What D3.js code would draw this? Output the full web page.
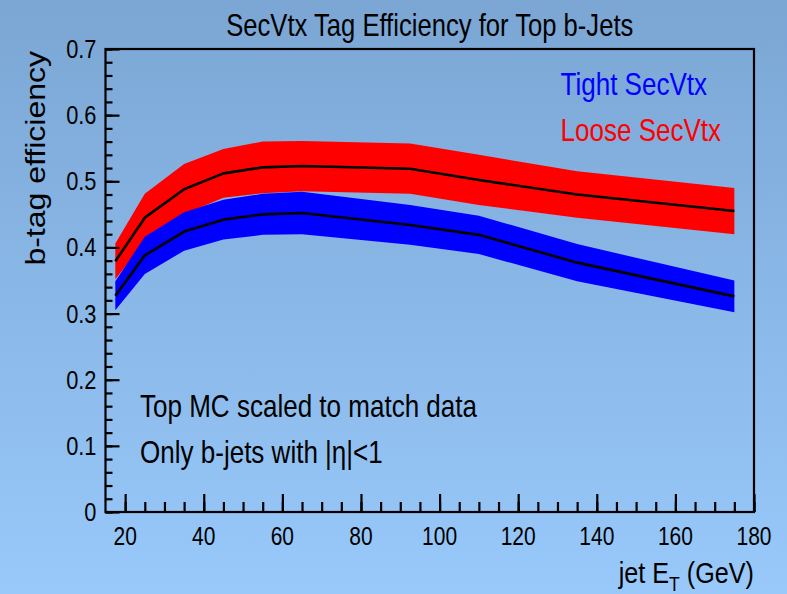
<!DOCTYPE html>
<html>
<head>
<meta charset="utf-8">
<script src="https://cdn.jsdelivr.net/npm/d3@7"></script>
<style>
  html, body { margin: 0; padding: 0; background: #8ab8e8; }
  svg { display: block; }
  text { font-family: "Liberation Sans", Arial, Helvetica, sans-serif; }
</style>
</head>
<body>
<svg id="chart" width="787" height="594"></svg>
<script>
// Jet ET bin centres (GeV)
const etBins = [17.5, 25, 35, 45, 55, 65, 92.5, 110, 135, 175];

// Tight SecVtx efficiency and its band half-width
const tightEff = [0.327, 0.388, 0.424, 0.442, 0.450, 0.452, 0.434, 0.419, 0.377, 0.326];
const tightErr = [0.022, 0.028, 0.029, 0.030, 0.031, 0.032, 0.030, 0.029, 0.028, 0.024];

// Loose SecVtx efficiency and its band half-width
const looseEff = [0.379, 0.445, 0.488, 0.512, 0.521, 0.523, 0.519, 0.502, 0.480, 0.455];
const looseErr = [0.027, 0.036, 0.038, 0.037, 0.039, 0.038, 0.038, 0.038, 0.035, 0.035];

const xTicks = [20, 40, 60, 80, 100, 120, 140, 160, 180];
const yTicks = [0, 0.1, 0.2, 0.3, 0.4, 0.5, 0.6, 0.7];

const W = 787, H = 594;
const frame = { left: 105.5, right: 754, top: 49, bottom: 512 };
const squeeze = 0.84; // horizontal glyph scale of the canvas fonts

const svg = d3.select("#chart");

// canvas gradient background
const defs = svg.append("defs");
const grad = defs.append("linearGradient").attr("id", "bg")
  .attr("x1", 0).attr("y1", 0).attr("x2", 0).attr("y2", 1);
grad.append("stop").attr("offset", "0%").attr("stop-color", "#7ba6d4");
grad.append("stop").attr("offset", "100%").attr("stop-color", "#98c9fa");
svg.append("rect").attr("width", W).attr("height", H).attr("fill", "url(#bg)");

const x = d3.scaleLinear().domain([15, 180]).range([frame.left, frame.right]);
const y = d3.scaleLinear().domain([0, 0.7]).range([frame.bottom, frame.top]);

const rows = (eff, err) => etBins.map((e, i) => ({ et: e, v: eff[i], lo: eff[i] - err[i], hi: eff[i] + err[i] }));
const loose = rows(looseEff, looseErr);
const tight = rows(tightEff, tightErr);

const band = d3.area().x(d => x(d.et)).y0(d => y(d.lo)).y1(d => y(d.hi)).curve(d3.curveLinear);
const line = d3.line().x(d => x(d.et)).y(d => y(d.v)).curve(d3.curveLinear);

svg.append("path").datum(loose).attr("d", band).attr("fill", "#ff0000");
svg.append("path").datum(tight).attr("d", band).attr("fill", "#0000ff");
svg.append("path").datum(loose).attr("d", line).attr("fill", "none")
  .attr("stroke", "#000").attr("stroke-width", 2.6).attr("stroke-linejoin", "round");
svg.append("path").datum(tight).attr("d", line).attr("fill", "none")
  .attr("stroke", "#000").attr("stroke-width", 2.6).attr("stroke-linejoin", "round");

// frame
svg.append("rect")
  .attr("x", frame.left).attr("y", frame.top)
  .attr("width", frame.right - frame.left).attr("height", frame.bottom - frame.top)
  .attr("fill", "none").attr("stroke", "#000").attr("stroke-width", 2.2);

// y axis: inward ticks, majors every 0.1, minors every 0.02
const yAxis = d3.axisLeft(y).tickValues(yTicks).tickSize(-14).tickPadding(0).tickFormat("");
const yMinor = d3.axisLeft(y).tickValues(d3.range(0, 0.7001, 0.02)).tickSize(-7).tickFormat("");
const gyMinor = svg.append("g").attr("transform", `translate(${frame.left},0)`).call(yMinor);
const gy = svg.append("g").attr("transform", `translate(${frame.left},0)`).call(yAxis);
[gy, gyMinor].forEach(g => {
  g.select(".domain").remove();
  g.selectAll("line").attr("stroke", "#000").attr("stroke-width", 2.2);
});

// x axis: inward ticks, majors every 20, minors every 5
const xAxis = d3.axisBottom(x).tickValues(xTicks).tickSize(-18).tickFormat("");
const xMinor = d3.axisBottom(x).tickValues(d3.range(20, 180.1, 5)).tickSize(-10).tickFormat("");
const gxMinor = svg.append("g").attr("transform", `translate(0,${frame.bottom})`).call(xMinor);
const gx = svg.append("g").attr("transform", `translate(0,${frame.bottom})`).call(xAxis);
[gx, gxMinor].forEach(g => {
  g.select(".domain").remove();
  g.selectAll("line").attr("stroke", "#000").attr("stroke-width", 2.2);
});

// condensed text helper
function label(px, py, str, size, anchor, color, rotate) {
  const t = svg.append("text")
    .attr("transform", rotate
      ? `translate(${px},${py}) rotate(-90) scale(1,${squeeze})`
      : `translate(${px},${py}) scale(${squeeze},1)`)
    .attr("text-anchor", anchor)
    .attr("font-size", size)
    .attr("fill", color || "#000");
  if (str !== null) t.text(str);
  return t;
}

// tick labels
yTicks.forEach(v => label(frame.left - 9, y(v) + 9, v === 0 ? "0" : d3.format(".1f")(v), 26, "end"));
xTicks.forEach(v => label(x(v), 545, String(v), 25, "middle"));

// titles
label((frame.left + frame.right) / 2, 36, "SecVtx Tag Efficiency for Top b-Jets", 30.5, "middle");
label(45, 51, "b-tag efficiency", 32, "end", "#000", true);

const xt = label(frame.right, 583, null, 30, "end");
xt.append("tspan").text("jet E");
xt.append("tspan").attr("font-size", 21).attr("dy", 8).text("T");
xt.append("tspan").attr("dy", -8).text(" (GeV)");

// legend
label(560.5, 94.5, "Tight SecVtx", 31, "start", "#0000ff");
label(560.5, 140.5, "Loose SecVtx", 31, "start", "#ff0000");

// notes
label(140, 417, "Top MC scaled to match data", 31, "start");
label(140, 463, "Only b-jets with |η|<1", 31, "start");
</script>
</body>
</html>
